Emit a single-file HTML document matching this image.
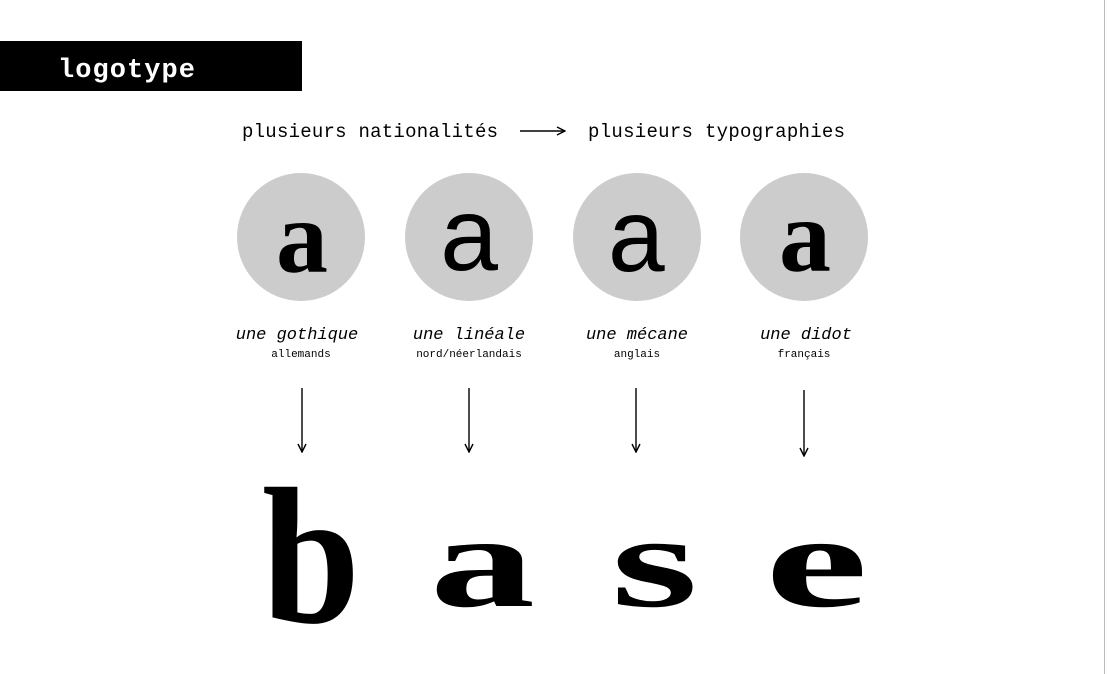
<!DOCTYPE html>
<html><head><meta charset="utf-8"><style>
html,body{margin:0;padding:0;background:#fff;}
body{width:1107px;height:674px;overflow:hidden;position:relative;}
</style></head><body>
<svg width="1107" height="674" viewBox="0 0 1107 674" xmlns="http://www.w3.org/2000/svg" style="position:absolute;left:0;top:0">
<defs><marker id="ah" markerWidth="10" markerHeight="10" refX="9" refY="5" orient="auto" markerUnits="userSpaceOnUse"><path d="M1,1 L9,5 L1,9" fill="none" stroke="#000" stroke-width="1.4"/></marker></defs>
<line x1="1104.5" y1="0" x2="1104.5" y2="674" stroke="#bbb" stroke-width="1"/>
<rect x="0" y="41" width="302" height="50" fill="#000"/>
<text x="58" y="77" font-family="Liberation Mono, monospace" font-size="27" font-weight="bold" fill="#fff" textLength="137">logotype</text>
<g font-family="Liberation Mono, monospace" font-size="19" fill="#000">
<text x="242" y="137" textLength="256">plusieurs nationalités</text>
<text x="588" y="137" textLength="257">plusieurs typographies</text>
</g>
<line x1="520" y1="131" x2="565" y2="131" stroke="#000" stroke-width="1.4" marker-end="url(#ah)"/>
<g fill="#ccc">
<circle cx="301" cy="237" r="64"/><circle cx="469" cy="237" r="64"/><circle cx="637" cy="237" r="64"/><circle cx="804" cy="237" r="64"/>
</g>
<g font-family="Liberation Serif, serif" text-anchor="middle" fill="#000">
<text x="302" y="272" font-size="104" font-weight="bold">a</text>
<text x="469" y="270" font-size="104" font-family="Liberation Sans, sans-serif">a</text>
<text x="637" y="271" font-size="104" font-family="Liberation Mono, monospace">a</text>
<text x="805" y="271" font-size="104" font-weight="bold">a</text>
</g>
<g font-family="Liberation Mono, monospace" text-anchor="middle" fill="#000">
<text x="297" y="339" font-size="17" font-style="italic">une gothique</text>
<text x="469" y="339" font-size="17" font-style="italic">une linéale</text>
<text x="637" y="339" font-size="17" font-style="italic">une mécane</text>
<text x="806" y="339" font-size="17" font-style="italic">une didot</text>
<text x="301" y="357" font-size="11">allemands</text>
<text x="469" y="357" font-size="11">nord/néerlandais</text>
<text x="637" y="357" font-size="11">anglais</text>
<text x="804" y="357" font-size="11">français</text>
</g>
<g stroke="#000" stroke-width="1.4">
<line x1="302" y1="388" x2="302" y2="452" marker-end="url(#ah)"/>
<line x1="469" y1="388" x2="469" y2="452" marker-end="url(#ah)"/>
<line x1="636" y1="388" x2="636" y2="452" marker-end="url(#ah)"/>
<line x1="804" y1="390" x2="804" y2="456" marker-end="url(#ah)"/>
</g>
<g font-family="Liberation Serif, serif" font-weight="bold" fill="#000">
<text x="262" y="622" font-size="195" textLength="98" lengthAdjust="spacingAndGlyphs">b</text>
<text x="430" y="606" font-size="132" textLength="105" lengthAdjust="spacingAndGlyphs">a</text>
<text x="611" y="606" font-size="132" textLength="87" lengthAdjust="spacingAndGlyphs">s</text>
<text x="765" y="606" font-size="132" textLength="103" lengthAdjust="spacingAndGlyphs">e</text>
</g>
</svg>
</body></html>
